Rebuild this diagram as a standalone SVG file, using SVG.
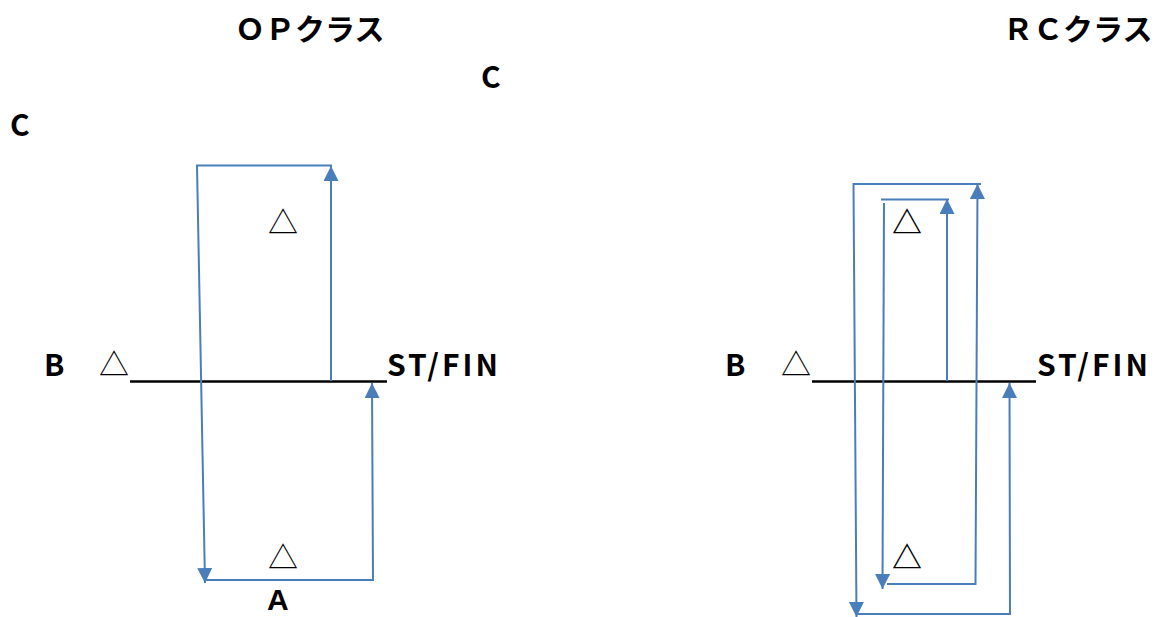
<svg xmlns="http://www.w3.org/2000/svg" width="1158" height="617" viewBox="0 0 1158 617">
<style>
.t{font-family:"Noto Sans CJK JP","Noto Sans",sans-serif;font-weight:bold;font-size:30px;fill:#000}
.tri{font-family:"Noto Sans CJK JP",sans-serif;font-size:30px;fill:#000;text-anchor:middle}
.base{stroke:#000;stroke-width:2.5;fill:none}
.c{stroke:#4a7ebb;stroke-width:2;fill:none}
</style>
<defs>
<marker id="ah" markerWidth="15" markerHeight="16" refX="15" refY="7.5" orient="auto" markerUnits="userSpaceOnUse">
<path d="M0,0 L15,7.5 L0,15 Z" fill="#4a7ebb"/>
</marker>
</defs>
<g id="titles">
<text class="t" x="235" y="40">ＯＰクラス</text>
<text class="t" x="1003" y="40">ＲＣクラス</text>
<text class="t" x="481" y="88">C</text>
<text class="t" x="10" y="136">C</text>
</g>
<g id="op-axis">
<line class="base" x1="130" y1="381.5" x2="387" y2="381.5"/>
<text class="t" x="44" y="376">B</text>
<text class="tri" x="114" y="375">△</text>
<text class="t" x="387" y="376" textLength="111" lengthAdjust="spacing">ST/FIN</text>
<text class="tri" x="283" y="233">△</text>
<text class="tri" x="283" y="568">△</text>
<text x="267" y="610" style="font-family:'Liberation Sans',Arial,sans-serif;font-weight:bold;font-size:30px">A</text>
</g>
<g id="rc-axis">
<line class="base" x1="812" y1="381.5" x2="1036" y2="381.5"/>
<text class="t" x="725" y="376">B</text>
<text class="tri" x="796" y="375">△</text>
<text class="t" x="1037" y="376" textLength="111" lengthAdjust="spacing">ST/FIN</text>
<text class="tri" x="907" y="233" style="font-weight:bold">△</text>
<text class="tri" x="907" y="568" style="font-weight:bold">△</text>
</g>
<g id="connectors">
<polyline class="c" points="332,165.5 197,165.5 205,583" marker-end="url(#ah)"/>
<line class="c" x1="331" y1="381" x2="331" y2="166" marker-end="url(#ah)"/>
<polyline class="c" points="206,580 373,580 372,383" marker-end="url(#ah)"/>
<polyline class="c" points="981,184 853.5,184 856.5,617" marker-end="url(#ah)"/>
<polyline class="c" points="856,614 1010,614 1009.5,383" marker-end="url(#ah)"/>
<polyline class="c" points="887,584 975.5,584 977.5,184" marker-end="url(#ah)"/>
<line class="c" x1="881" y1="199.5" x2="949" y2="199.5"/>
<line class="c" x1="884" y1="203" x2="882.5" y2="589" marker-end="url(#ah)"/>
<line class="c" x1="947" y1="381" x2="947" y2="199" marker-end="url(#ah)"/>
</g>
</svg>
